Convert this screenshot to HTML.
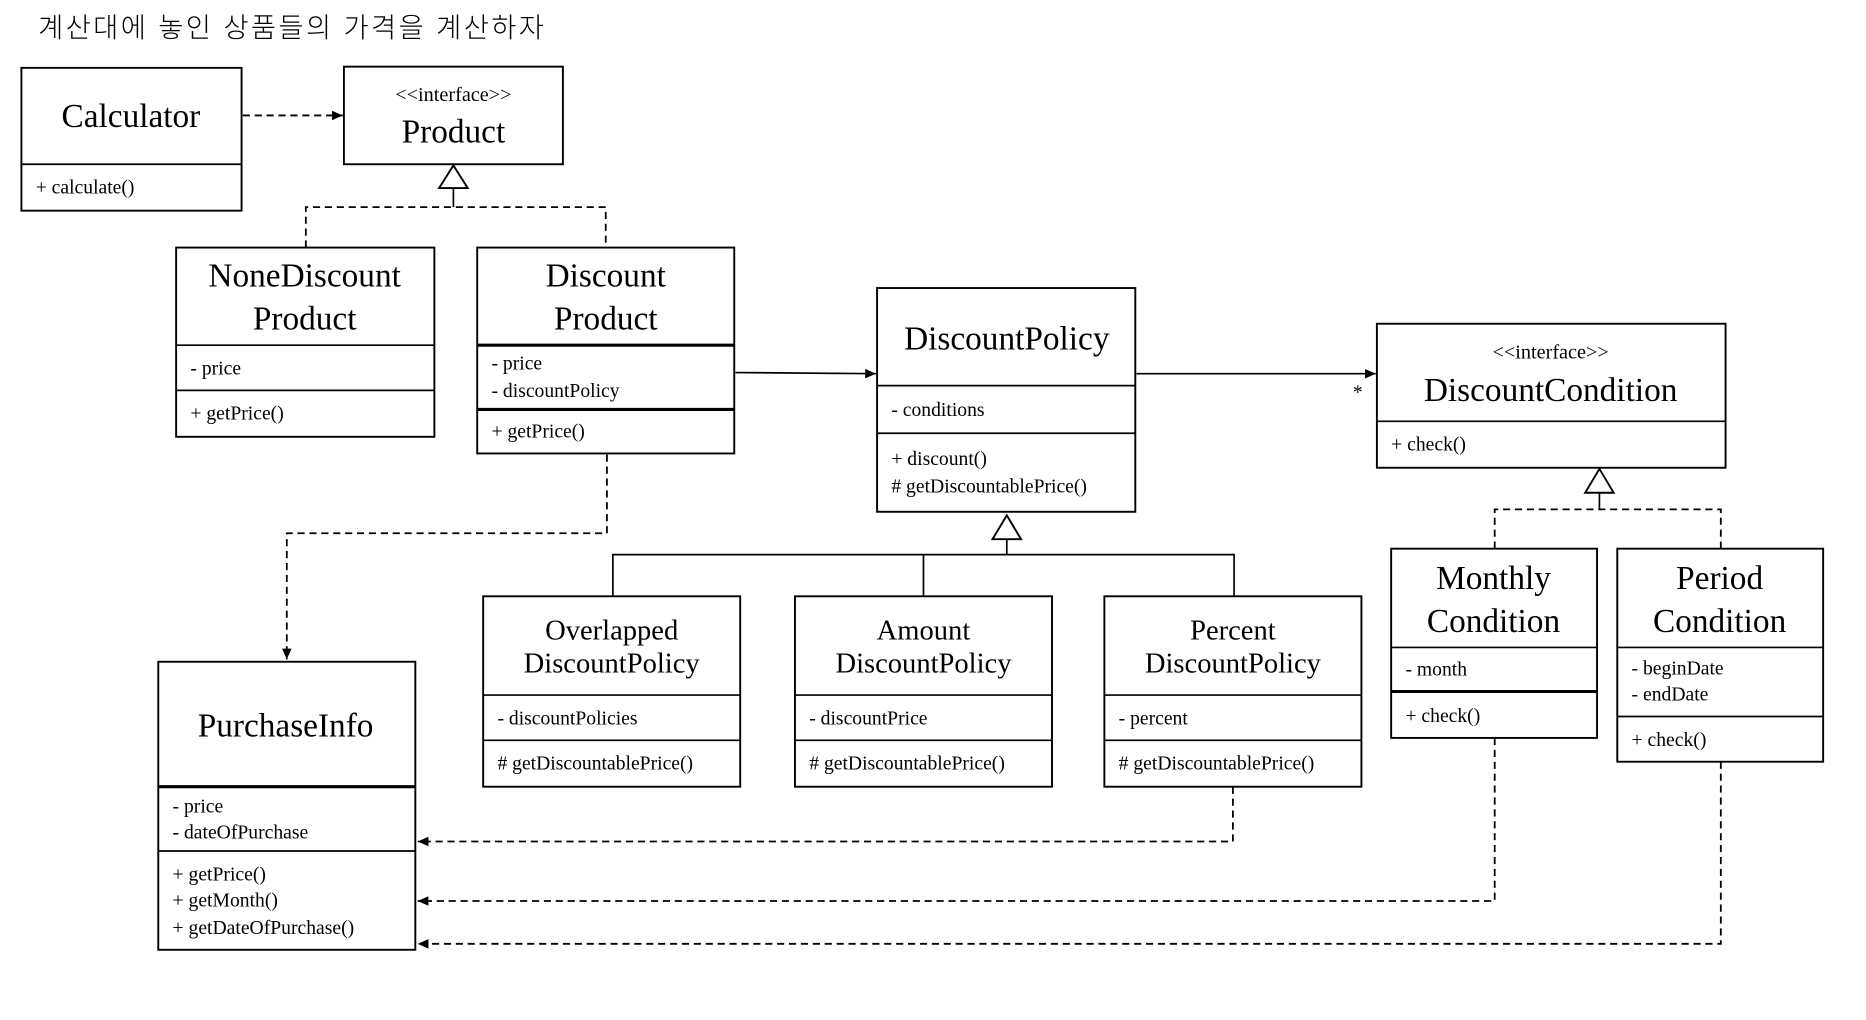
<!DOCTYPE html>
<html><head><meta charset="utf-8">
<style>
html,body{margin:0;padding:0;background:#fff;}
svg{display:block;}
text{font-family:"Liberation Serif",serif;fill:#000;}
.n{font-size:28px;text-anchor:middle;dominant-baseline:central;}
.m{font-size:24px;text-anchor:middle;dominant-baseline:central;}
.s{font-size:17px;text-anchor:middle;dominant-baseline:central;}
.a{font-size:16.5px;dominant-baseline:central;}
.b{fill:#fff;stroke:#000;stroke-width:1.6;}
.l{stroke:#000;stroke-width:1.4;fill:none;}
.t{stroke:#000;stroke-width:2.6;fill:none;}
.d{stroke:#000;stroke-width:1.5;fill:none;stroke-dasharray:6,4;}
</style></head><body>
<svg width="1866" height="1020" viewBox="0 0 1568 857" preserveAspectRatio="none" xmlns="http://www.w3.org/2000/svg">
<defs>
<marker id="ar" markerWidth="10" markerHeight="10" refX="9" refY="5" orient="auto" markerUnits="userSpaceOnUse">
<path d="M0,1 L9,5 L0,9 z" fill="#000"/></marker>
</defs>
<text x="32" y="23" style="font-family:'Liberation Sans','Noto Sans CJK KR',sans-serif;font-size:23px;letter-spacing:2px;dominant-baseline:central;font-weight:300">계산대에 놓인 상품들의 가격을 계산하자</text>

<line class="d" x1="204" y1="97" x2="288" y2="97" marker-end="url(#ar)"/>
<polyline class="d" points="257,208 257,174 509,174 509,208"/>
<line class="l" x1="381" y1="158" x2="381" y2="174"/>
<path d="M381,139 L369,158 L393,158 z" class="b" stroke-width="1.4"/>

<line class="l" x1="618" y1="313" x2="736" y2="314" marker-end="url(#ar)"/>
<line class="l" x1="955" y1="314" x2="1156" y2="314" marker-end="url(#ar)"/>
<text x="1141" y="330" class="a" style="text-anchor:middle">*</text>

<polyline class="l" points="515,501 515,466 1037,466 1037,501"/>
<line class="l" x1="776" y1="466" x2="776" y2="501"/>
<line class="l" x1="846" y1="453" x2="846" y2="466"/>
<path d="M846,433 L834,453 L858,453 z" class="b" stroke-width="1.4"/>

<polyline class="d" points="1256,461 1256,428 1446,428 1446,461"/>
<line class="l" x1="1344" y1="414" x2="1344" y2="428"/>
<path d="M1344,394 L1332,414 L1356,414 z" class="b" stroke-width="1.4"/>

<polyline class="d" points="510,382 510,448 241,448 241,554" marker-end="url(#ar)"/>
<polyline class="d" points="1036,661 1036,707 351,707" marker-end="url(#ar)"/>
<polyline class="d" points="1256,620 1256,757 351,757" marker-end="url(#ar)"/>
<polyline class="d" points="1446,640 1446,793 351,793" marker-end="url(#ar)"/>

<rect class="b" x="18" y="57" width="185" height="120"/>
<line class="l" x1="18" y1="138" x2="203" y2="138"/>
<text class="n" x="110" y="98">Calculator</text>
<text class="a" x="30" y="158">+ calculate()</text>

<rect class="b" x="289" y="56" width="184" height="82"/>
<text class="s" x="381" y="80">&lt;&lt;interface&gt;&gt;</text>
<text class="n" x="381" y="111">Product</text>

<rect class="b" x="148" y="208" width="217" height="159"/>
<line class="l" x1="148" y1="290" x2="365" y2="290"/>
<line class="l" x1="148" y1="328" x2="365" y2="328"/>
<text class="n" x="256" y="232">NoneDiscount</text>
<text class="n" x="256" y="268">Product</text>
<text class="a" x="160" y="310">- price</text>
<text class="a" x="160" y="348">+ getPrice()</text>

<rect class="b" x="401" y="208" width="216" height="173"/>
<line class="t" x1="401" y1="290" x2="617" y2="290"/>
<line class="t" x1="401" y1="344" x2="617" y2="344"/>
<text class="n" x="509" y="232">Discount</text>
<text class="n" x="509" y="268">Product</text>
<text class="a" x="413" y="306">- price</text>
<text class="a" x="413" y="329">- discountPolicy</text>
<text class="a" x="413" y="363">+ getPrice()</text>

<rect class="b" x="737" y="242" width="217" height="188"/>
<line class="l" x1="737" y1="324" x2="954" y2="324"/>
<line class="l" x1="737" y1="364" x2="954" y2="364"/>
<text class="n" x="846" y="285">DiscountPolicy</text>
<text class="a" x="749" y="345">- conditions</text>
<text class="a" x="749" y="386">+ discount()</text>
<text class="a" x="749" y="409"># getDiscountablePrice()</text>

<rect class="b" x="1157" y="272" width="293" height="121"/>
<line class="l" x1="1157" y1="354" x2="1450" y2="354"/>
<text class="s" x="1303" y="296">&lt;&lt;interface&gt;&gt;</text>
<text class="n" x="1303" y="328">DiscountCondition</text>
<text class="a" x="1169" y="374">+ check()</text>

<rect class="b" x="406" y="501" width="216" height="160"/>
<line class="l" x1="406" y1="584" x2="622" y2="584"/>
<line class="l" x1="406" y1="622" x2="622" y2="622"/>
<text class="m" x="514" y="530">Overlapped</text>
<text class="m" x="514" y="558">DiscountPolicy</text>
<text class="a" x="418" y="604">- discountPolicies</text>
<text class="a" x="418" y="642"># getDiscountablePrice()</text>

<rect class="b" x="668" y="501" width="216" height="160"/>
<line class="l" x1="668" y1="584" x2="884" y2="584"/>
<line class="l" x1="668" y1="622" x2="884" y2="622"/>
<text class="m" x="776" y="530">Amount</text>
<text class="m" x="776" y="558">DiscountPolicy</text>
<text class="a" x="680" y="604">- discountPrice</text>
<text class="a" x="680" y="642"># getDiscountablePrice()</text>

<rect class="b" x="928" y="501" width="216" height="160"/>
<line class="l" x1="928" y1="584" x2="1144" y2="584"/>
<line class="l" x1="928" y1="622" x2="1144" y2="622"/>
<text class="m" x="1036" y="530">Percent</text>
<text class="m" x="1036" y="558">DiscountPolicy</text>
<text class="a" x="940" y="604">- percent</text>
<text class="a" x="940" y="642"># getDiscountablePrice()</text>

<rect class="b" x="1169" y="461" width="173" height="159"/>
<line class="l" x1="1169" y1="544" x2="1342" y2="544"/>
<line class="t" x1="1169" y1="581" x2="1342" y2="581"/>
<text class="n" x="1255" y="486">Monthly</text>
<text class="n" x="1255" y="522">Condition</text>
<text class="a" x="1181" y="563">- month</text>
<text class="a" x="1181" y="602">+ check()</text>

<rect class="b" x="1359" y="461" width="173" height="179"/>
<line class="l" x1="1359" y1="544" x2="1532" y2="544"/>
<line class="l" x1="1359" y1="602" x2="1532" y2="602"/>
<text class="n" x="1445" y="486">Period</text>
<text class="n" x="1445" y="522">Condition</text>
<text class="a" x="1371" y="562">- beginDate</text>
<text class="a" x="1371" y="584">- endDate</text>
<text class="a" x="1371" y="622">+ check()</text>

<rect class="b" x="133" y="556" width="216" height="242"/>
<line class="t" x1="133" y1="661" x2="349" y2="661"/>
<line class="l" x1="133" y1="715" x2="349" y2="715"/>
<text class="n" x="240" y="610">PurchaseInfo</text>
<text class="a" x="145" y="678">- price</text>
<text class="a" x="145" y="700">- dateOfPurchase</text>
<text class="a" x="145" y="735">+ getPrice()</text>
<text class="a" x="145" y="757">+ getMonth()</text>
<text class="a" x="145" y="780">+ getDateOfPurchase()</text>
</svg>
</body></html>
